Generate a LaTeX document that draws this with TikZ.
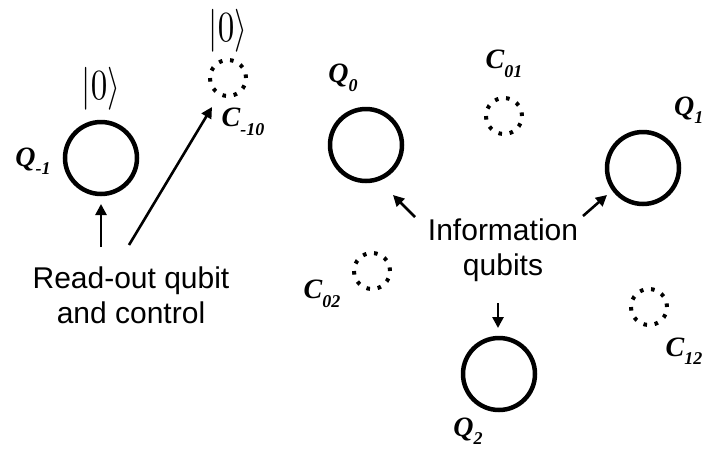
\documentclass[tikz,border=0pt]{standalone}
\usepackage{fontspec}
\setmainfont{Liberation Serif}
\newfontfamily\arialfont{Liberation Sans}
\usetikzlibrary{arrows.meta}
\newcommand\qlab[2]{{\fontsize{28}{28}\selectfont\bfseries\itshape #1\raisebox{-0.3em}{\fontsize{18}{18}\selectfont #2}}}
\newcommand\ketzero{\scalebox{3.3}[4.3]{$|0\rangle$}}
\tikzset{
  qubit/.style={circle, draw=black, line width=4.5pt, minimum size=72pt, inner sep=0pt},
  coupler/.style={circle, draw=black, line width=4pt, minimum size=36pt, inner sep=0pt,
    dash pattern=on 3.6pt off 7.7pt},
  lbl/.style={inner sep=0pt},
  txt/.style={font=\arialfont\fontsize{30}{35}\selectfont, align=center, inner sep=0pt},
  arr/.style={line width=2.6pt, -{Triangle[length=11pt,width=11pt]}}
}
\begin{document}
\begin{tikzpicture}[x=1pt,y=-1pt]
\useasboundingbox (0,0) rectangle (704,448);
% qubits
\node[qubit] (qm1) at (101,158) {};
\node[qubit] (q0) at (366,145) {};
\node[qubit] (q1) at (643,168) {};
\node[qubit] (q2) at (499,374) {};
% couplers
\node[coupler] (cm10) at (228,78) {};
\node[coupler] (c01) at (504,116) {};
\node[coupler] (c02) at (372,271) {};
\node[coupler] (c12) at (649,307) {};
% kets
\node[lbl] (k1) at (101,89) {\ketzero};
\node[lbl] (k2) at (228,31) {\ketzero};
% labels
\node[lbl] (lqm1) at (33,161) {\qlab{Q}{-1}};
\node[lbl] (lcm10) at (243,122) {\qlab{C}{-10}};
\node[lbl] (lq0) at (343,78) {\qlab{Q}{0}};
\node[lbl] (lc01) at (504,64) {\qlab{C}{01}};
\node[lbl, anchor=west] (lq1) at (674,110) {\qlab{Q}{1}};
\node[lbl] (lc02) at (322,294) {\qlab{C}{02}};
\node[lbl] (lc12) at (684,351) {\qlab{C}{12}};
\node[lbl] (lq2) at (468,431) {\qlab{Q}{2}};
% texts
\node[txt] (ro) at (131,295) {Read-out qubit\\and control};
\node[txt] (info) at (503,250) {Information\\qubits};
% arrow start points
\coordinate (s1) at (101,247);
\coordinate (s2) at (129,245);
\coordinate (s3) at (415,217);
\coordinate (s4) at (583,216);
\coordinate (s5) at (498,303);
\coordinate (e1) at (101,204);
\coordinate (e2) at (212,107);
\coordinate (e3) at (393,195);
\coordinate (e4) at (607,195);
\coordinate (e5) at (498,328);
\draw[arr] (s1) -- (e1);
\draw[arr] (s2) -- (e2);
\draw[arr] (s3) -- (e3);
\draw[arr] (s4) -- (e4);
\draw[arr] (s5) -- (e5);
\end{tikzpicture}
\end{document}
